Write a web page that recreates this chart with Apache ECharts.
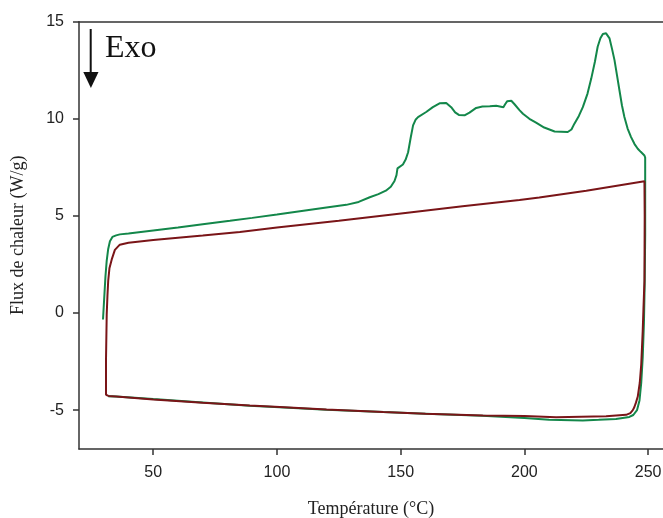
<!DOCTYPE html>
<html>
<head>
<meta charset="utf-8">
<script src="https://cdn.jsdelivr.net/npm/echarts@6/dist/echarts.min.js"></script>
<style>
html,body{margin:0;padding:0;background:#fff;}
#chart{width:663px;height:518px;}
</style>
</head>
<body>
<div id="chart"></div>
<script>
// Temperature (°C) / heat flow (W/g) pairs
const greenCurve = [
[29.7,-0.33],[30.2,0.8],[30.7,1.9],[31.2,2.7],[31.8,3.3],[32.5,3.7],[33.5,3.92],[35,4.0],[36.5,4.05],[40,4.1],
[50,4.25],[60,4.4],[70,4.57],[81,4.75],[90,4.9],[100,5.07],[110,5.25],[120,5.43],[128,5.57],[133,5.72],
[137.5,5.96],[141,6.12],[144,6.3],[146,6.5],[147.5,6.8],[148.3,7.1],[148.7,7.45],[149.5,7.55],[150.9,7.65],
[152,7.9],[153,8.28],[154,9.0],[155,9.66],[156,9.95],[157,10.09],[160.3,10.35],[163,10.6],[165.7,10.8],
[168.4,10.82],[170.4,10.6],[172,10.33],[173.5,10.2],[175.8,10.18],[177.8,10.32],[180.5,10.56],[183,10.63],
[186,10.65],[188.6,10.67],[191.5,10.6],[192.2,10.75],[193,10.9],[194.7,10.93],[196,10.75],[198,10.45],
[199.4,10.26],[202,10.0],[204.7,9.8],[208,9.55],[212.2,9.35],[217.5,9.32],[219,9.45],[220.2,9.75],[222,10.15],
[223.6,10.6],[225.5,11.3],[227,12.07],[228.5,12.95],[229.6,13.71],[230.7,14.15],[231.7,14.37],[233,14.4],
[234.4,14.14],[235.4,13.6],[236.4,13.02],[237.4,12.25],[238.4,11.47],[239.4,10.7],[240.4,10.09],[241.7,9.5],
[243.1,9.06],[244.5,8.7],[245.8,8.46],[247,8.3],[247.8,8.2],[248.5,8.11],[248.8,8.0],[248.8,4],[248.6,1.5],
[248.3,-0.5],[247.8,-2.3],[247.2,-3.6],[246.5,-4.5],[245.5,-5.0],[244,-5.25],[242.4,-5.35],[237,-5.45],
[230,-5.5],[223.6,-5.53],[210,-5.49],[200,-5.4],[183,-5.29],[160,-5.18],[143,-5.1],[120,-4.98],[101,-4.85],
[89,-4.77],[70,-4.6],[50,-4.43],[35,-4.3],[31.8,-4.28]
];
const redCurve = [
[31.8,-4.27],[30.9,-4.2],[30.9,-2.5],[31.2,-0.07],[31.5,0.9],[31.8,1.65],[32.3,2.3],[33.2,2.75],[34.5,3.25],
[36.5,3.52],[40,3.62],[50,3.76],[60,3.88],[70,3.99],[85,4.17],[100,4.4],[125,4.75],[153.6,5.18],[175,5.5],
[198,5.82],[206,5.95],[225,6.3],[248.5,6.79],[248.6,5],[248.5,1.65],[248.1,0.2],[247.8,-0.93],[247.2,-2.65],
[246.6,-3.6],[245.8,-4.3],[245.1,-4.6],[244.4,-4.85],[243.8,-5.0],[242.8,-5.15],[241.1,-5.24],[233,-5.32],
[212.8,-5.37],[200,-5.3],[183.2,-5.27],[160,-5.18],[142.9,-5.1],[120,-4.97],[101.1,-4.84],[89,-4.76],
[70,-4.62],[50,-4.45],[35,-4.3],[31.8,-4.27]
];
const xTicks = [50,100,150,200,250];
const yTicks = [-5,0,5,10,15];
const xTitle = 'Température (°C)';
const yTitle = 'Flux de chaleur (W/g)';
const annotation = 'Exo';

const chart = echarts.init(document.getElementById('chart'), null, {renderer:'canvas'});
const axisLineStyle = {color:'#333', width:1.5};
const labelStyle = {color:'#222', fontFamily:'Liberation Sans, Arial, sans-serif', fontSize:16};
chart.setOption({
  animation:false,
  backgroundColor:'#fff',
  grid:{left:79, top:21.7, right:0, bottom:69, containLabel:false, outerBoundsMode:'none'},
  xAxis:[{
    type:'value', min:20, max:256, position:'bottom',
    name:xTitle, nameLocation:'middle', nameGap:51,
    nameTextStyle:{fontFamily:'Liberation Serif, Times New Roman, serif', fontSize:18, color:'#222'},
    axisLine:{show:true, onZero:false, lineStyle:axisLineStyle},
    axisTick:{show:true, inside:false, length:6, lineStyle:axisLineStyle, customValues:xTicks},
    axisLabel:Object.assign({margin:16, customValues:xTicks}, labelStyle),
    splitLine:{show:false}
  },{
    type:'value', min:20, max:256, position:'top',
    axisLine:{show:true, onZero:false, lineStyle:axisLineStyle},
    axisTick:{show:false}, axisLabel:{show:false}, splitLine:{show:false}
  }],
  yAxis:{
    type:'value', min:-7, max:15,
    name:yTitle, nameLocation:'middle', nameGap:52, nameRotate:90,
    nameTextStyle:{fontFamily:'Liberation Serif, Times New Roman, serif', fontSize:18, color:'#222'},
    axisLine:{show:true, onZero:false, lineStyle:axisLineStyle},
    axisTick:{show:true, inside:false, length:6, lineStyle:axisLineStyle, customValues:yTicks},
    axisLabel:Object.assign({margin:15, customValues:yTicks}, labelStyle),
    splitLine:{show:false}
  },
  series:[
    {type:'line', name:'green', data:greenCurve, showSymbol:false, symbol:'none',
     lineStyle:{color:'#13874a', width:2}, z:2},
    {type:'line', name:'red', data:redCurve, showSymbol:false, symbol:'none',
     lineStyle:{color:'#7a1518', width:2}, z:3}
  ],
  graphic:[
    {type:'line', shape:{x1:90.7, y1:29, x2:90.7, y2:74}, style:{stroke:'#111', lineWidth:2}},
    {type:'polygon', shape:{points:[[83.3,72],[98.5,72],[90.9,88]]}, style:{fill:'#111'}},
    {type:'text', left:105, top:33, style:{text:annotation, font:'32px "Liberation Serif", "Times New Roman", serif', fill:'#111'}}
  ]
});
</script>
</body>
</html>
